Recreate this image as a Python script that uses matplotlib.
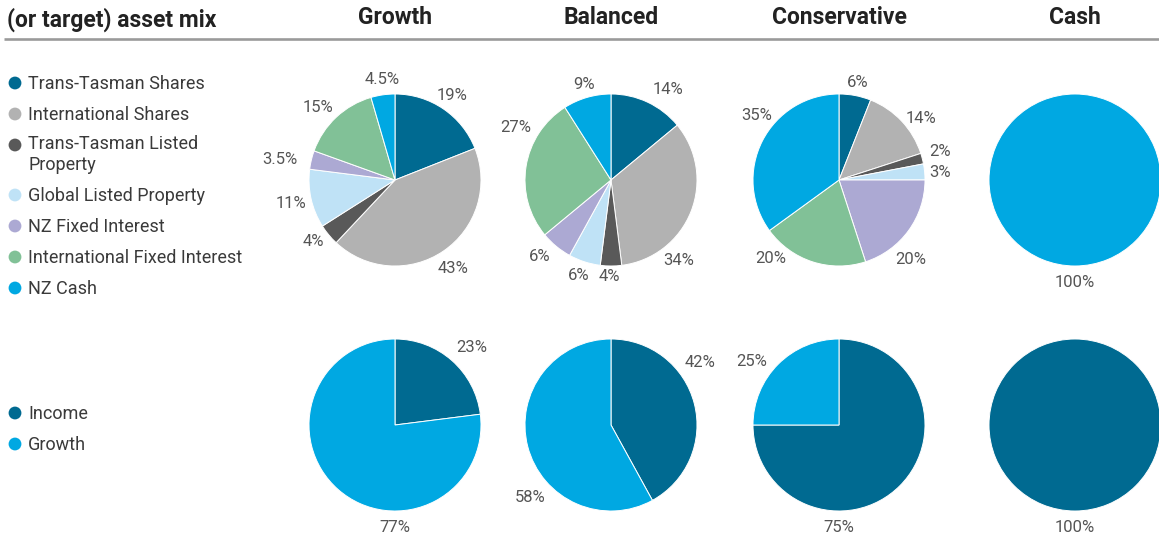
import numpy as np
import matplotlib.pyplot as plt

plt.rcParams['font.family'] = ['Roboto', 'DejaVu Sans']

# asset classes and the colours used for them
asset_classes = ['Trans-Tasman Shares', 'International Shares',
                 'Trans-Tasman Listed\nProperty', 'Global Listed Property',
                 'NZ Fixed Interest', 'International Fixed Interest', 'NZ Cash']
asset_colors = ['#006a91', '#b2b2b2', '#595959', '#bfe2f6',
                '#aca9d3', '#81c197', '#00a8e2']

funds = ['Growth', 'Balanced', 'Conservative', 'Cash']

# target asset mix (%) per fund, same order as asset_classes
growth_mix = [19, 43, 4, 11, 3.5, 15, 4.5]
balanced_mix = [14, 34, 4, 6, 6, 27, 9]
conservative_mix = [6, 14, 2, 3, 20, 20, 35]
cash_mix = [0, 0, 0, 0, 0, 0, 100]

# income / growth split (%) per fund
split_types = ['Income', 'Growth']
split_colors = ['#006a91', '#00a8e2']
growth_split = [23, 77]
balanced_split = [42, 58]
conservative_split = [75, 25]
cash_split = [100, 0]

mixes = [growth_mix, balanced_mix, conservative_mix, cash_mix]
splits = [growth_split, balanced_split, conservative_split, cash_split]

# label placement (angle in degrees, distance in radii) for each non-zero wedge
mix_label_pos = [
    [(56, 1.19), (-57, 1.23), (-143, 1.19), (-167, 1.24), (170, 1.36), (137, 1.23), (97, 1.18)],
    [(58, 1.24), (-50, 1.22), (-91, 1.12), (-109, 1.17), (-133, 1.22), (151, 1.26), (106, 1.15)],
    [(79, 1.15), (37, 1.19), (15.5, 1.22), (4, 1.18), (-48, 1.24), (-131, 1.21), (142, 1.22)],
    [(-90, 1.19)],
]
split_label_pos = [
    [(45, 1.27), (-90, 1.19)],
    [(35, 1.27), (-138, 1.26)],
    [(-90, 1.19), (144, 1.25)],
    [(-90, 1.19)],
]

W, H = 1159, 538
fig = plt.figure(figsize=(W / 100, H / 100), dpi=100)

# page layer in pixel coordinates: headers, rule and legends
page = fig.add_axes([0, 0, 1, 1])
page.set_xlim(0, W)
page.set_ylim(H, 0)
page.axis('off')

pie_x = [395, 611, 839, 1075]
row_y = [180, 425]
radius = 86

page.text(7, 20, '(or target) asset mix', ha='left', va='center',
          fontsize=16.5, fontweight='bold', color='#222222')
for name, cx in zip(funds, pie_x):
    page.text(cx, 18, name, ha='center', va='center', fontsize=16.5,
              fontweight='bold', color='#222222')
page.plot([4, W], [38.5, 38.5], color='#9a9a9a', lw=1.9, solid_capstyle='butt')


def draw_legend(labels, colors, ys):
    line_gap = 19
    for label, color, y in zip(labels, colors, ys):
        page.scatter(15, y, s=85, color=color, edgecolors='none')
        # baseline sits on the last line, so push wrapped labels down
        extra = label.count('\n') * line_gap
        page.text(28, y + 6 + extra, label, ha='left', va='baseline', fontsize=13,
                  color='#3a3a3a', linespacing=1.2)


draw_legend(asset_classes, asset_colors, [83, 114, 145, 195, 226, 257, 288])
draw_legend(split_types, split_colors, [413, 444])


def draw_pie(cx, cy, values, colors, label_pos):
    ax = fig.add_axes([(cx - 1.25 * radius) / W, 1 - (cy + 1.25 * radius) / H,
                       2.5 * radius / W, 2.5 * radius / H])
    vals = [v for v in values if v > 0]
    cols = [c for v, c in zip(values, colors) if v > 0]
    ax.pie(vals, colors=cols, startangle=90, counterclock=False,
           wedgeprops=dict(edgecolor='white', linewidth=0.7))
    ax.set_xlim(-1.25, 1.25)
    ax.set_ylim(-1.25, 1.25)
    for v, (ang, dist) in zip(vals, label_pos):
        a = np.deg2rad(ang)
        ax.text(dist * np.cos(a), dist * np.sin(a), f'{v:g}%', ha='center',
                va='center', fontsize=12, color='#555555', clip_on=False)


for cx, mix, pos in zip(pie_x, mixes, mix_label_pos):
    draw_pie(cx, row_y[0], mix, asset_colors, pos)
for cx, split, pos in zip(pie_x, splits, split_label_pos):
    draw_pie(cx, row_y[1], split, split_colors, pos)

fig.savefig('out.png', dpi=100)
